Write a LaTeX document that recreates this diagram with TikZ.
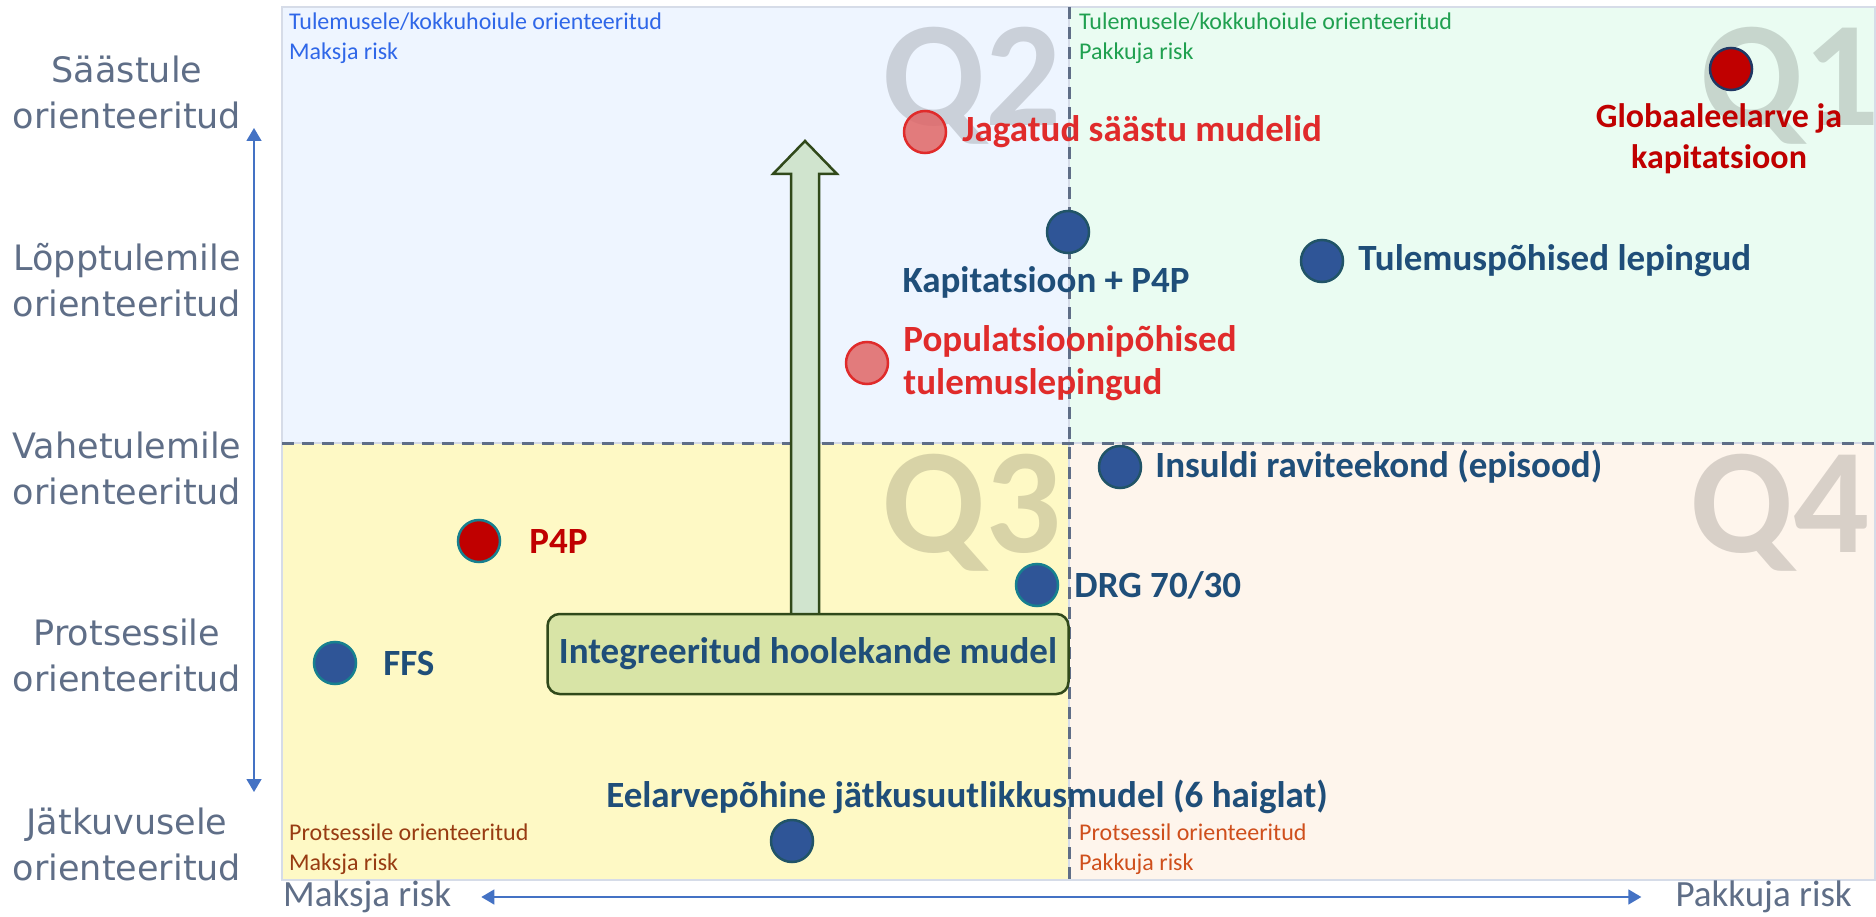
\documentclass[tikz,border=0pt]{standalone}
\usepackage{fontspec}
\setmainfont{Carlito}
\newfontfamily\axisfont{DejaVu Sans}
\usetikzlibrary{positioning,arrows.meta}

\definecolor{bgtwo}{HTML}{EEF5FF}
\definecolor{bgone}{HTML}{EAFCF2}
\definecolor{bgthree}{HTML}{FEF9C5}
\definecolor{bgfour}{HTML}{FEF5EC}
\definecolor{frameline}{HTML}{D6DCE8}
\definecolor{slate}{HTML}{5F6E87}
\definecolor{axisblue}{HTML}{4472C4}
\definecolor{navytext}{HTML}{1F4E79}
\definecolor{dotblue}{HTML}{2F5597}
\definecolor{dotred}{HTML}{C00000}
\definecolor{softred}{HTML}{E06666}
\definecolor{redtext}{HTML}{E02B2B}
\definecolor{tealrim}{HTML}{17808F}
\definecolor{darkrim}{HTML}{215467}
\definecolor{navyrim}{HTML}{1F3864}
\definecolor{arrowgreen}{HTML}{D0E4CE}
\definecolor{boxgreen}{HTML}{D8E4A6}
\definecolor{olive}{HTML}{30491A}
\definecolor{cornerblue}{HTML}{2F67E8}
\definecolor{cornergreen}{HTML}{20A050}
\definecolor{cornerbrown}{HTML}{983C12}
\definecolor{cornerorange}{HTML}{CF4F1C}

\begin{document}
\begin{tikzpicture}[x=1pt,y=-1pt,
		every node/.style={inner sep=0pt},
		spot/.style={circle,minimum size=42pt,line width=2.5pt},
		bluespot/.style={spot,draw=darkrim,fill=dotblue},
		pinkspot/.style={spot,draw=redtext,fill=softred,fill opacity=0.85},
		lbl/.style={font=\fontsize{37}{43}\selectfont\bfseries,text=navytext},
		redlbl/.style={lbl,text=redtext},
		corner/.style={font=\fontsize{24}{30}\selectfont,align=left,anchor=west},
		bigq/.style={font=\fontsize{150}{150}\selectfont\bfseries,text=black,text opacity=0.15,anchor=base east},
		side/.style={font=\axisfont\fontsize{35}{46}\selectfont,text=slate,align=center},
		risk/.style={font=\fontsize{37}{37}\selectfont,text=slate},
		quad/.style={draw=frameline,line width=1.5pt},
		divider/.style={slate,line width=3pt,dash pattern=on 12pt off 8pt},
		axisline/.style={axisblue,line width=1.5pt,{Triangle[width=15pt,length=13pt]}-{Triangle[width=15pt,length=13pt]}}]
	\useasboundingbox (0,0) rectangle (1876,917);
	\draw[quad,fill=bgtwo] (282,7) rectangle (1069,443);
	\draw[quad,fill=bgone] (1069,7) rectangle (1875,443);
	\draw[quad,fill=bgthree] (282,443) rectangle (1069,880);
	\draw[quad,fill=bgfour] (1069,443) rectangle (1875,880);
	\node[bigq] (qmark2) at (1062,126) {Q2};
	\node[bigq] (qmark1) at (1880,126) {Q1};
	\node[bigq] (qmark3) at (1062,552) {Q3};
	\node[bigq] (qmark4) at (1870,552) {Q4};
	\draw[divider] (282,443) -- (1876,443);
	\draw[divider] (1069,7) -- (1069,880);

	\node[corner,text=cornerblue] (note2) at (289,38) {Tulemusele/kokkuhoiule orienteeritud\\Maksja risk};
	\node[corner,text=cornergreen] (note1) at (1079,38) {Tulemusele/kokkuhoiule orienteeritud\\Pakkuja risk};
	\node[corner,text=cornerbrown] (note3) at (289,849) {Protsessile orienteeritud\\Maksja risk};
	\node[corner,text=cornerorange] (note4) at (1079,849) {Protsessil orienteeritud\\Pakkuja risk};

	\node[side] (saast) at (127,92) {Säästule\\orienteeritud};
	\node[side] (lopp) at (127,280) {Lõpptulemile\\orienteeritud};
	\node[side] (vahe) at (127,468) {Vahetulemile\\orienteeritud};
	\node[side] (prots) at (127,655) {Protsessile\\orienteeritud};
	\node[side] (jatk) at (127,844) {Jätkuvusele\\orienteeritud};
	\coordinate (ytop) at (254,128);
	\coordinate (ybot) at (254,792);
	\draw[axisline] (ytop) -- (ybot);
	\node[risk,anchor=west] (payer) at (283,897) {Maksja risk};
	\node[risk,anchor=east] (provider) at (1852,897) {Pakkuja risk};
	\draw[axisline,shorten <=30pt,shorten >=34pt] (payer) -- (provider);

	\node[spot,draw=navyrim,fill=dotred] (glob) at (1731,69) {};
	\node[pinkspot] (jag) at (925,132) {};
	\node[bluespot] (kap) at (1068,232) {};
	\node[bluespot] (tul) at (1322,261) {};
	\node[pinkspot] (pop) at (867,363) {};
	\node[bluespot] (ins) at (1120,467) {};
	\node[spot,draw=tealrim,fill=dotred] (pfp) at (479,541) {};
	\node[spot,draw=tealrim,fill=dotblue] (drg) at (1037,585) {};
	\node[spot,draw=tealrim,fill=dotblue] (ffs) at (335,663) {};
	\node[bluespot] (eel) at (792,841) {};

	\node[redlbl,text=dotred,font=\fontsize{34}{41}\selectfont\bfseries,align=center] (globl) at (1719,139) {Globaaleelarve ja\\kapitatsioon};
	\node[redlbl,right=15pt of jag] (jagl) {Jagatud säästu mudelid};
	\node[lbl,below=12pt of kap,xshift=-22pt] (kapl) {Kapitatsioon + P4P};
	\node[lbl,right=14pt of tul] (tull) {Tulemuspõhised lepingud};
	\node[redlbl,right=14pt of pop,align=left] (popl) {Populatsioonipõhised\\tulemuslepingud};
	\node[lbl,right=13pt of ins] (insl) {Insuldi raviteekond (episood)};
	\node[redlbl,text=dotred,right=28pt of pfp] (pfpl) {P4P};
	\node[lbl,right=15pt of drg] (drgl) {DRG 70/30};
	\node[lbl,right=26pt of ffs] (ffsl) {FFS};
	\node[lbl] (eell) at (967,797) {Eelarvepõhine jätkusuutlikkusmudel (6 haiglat)};

	\draw[olive,line width=2.5pt,fill=arrowgreen] (791,614) -- (791,174) -- (773,174) -- (805,141) -- (837,174) -- (819,174) -- (819,614);
	\node[lbl,draw=olive,fill=boxgreen,line width=2.5pt,rounded corners=12pt,minimum width=521pt,minimum height=80pt] (intbox) at (808,654) {Integreeritud hoolekande mudel};
\end{tikzpicture}
\end{document}
